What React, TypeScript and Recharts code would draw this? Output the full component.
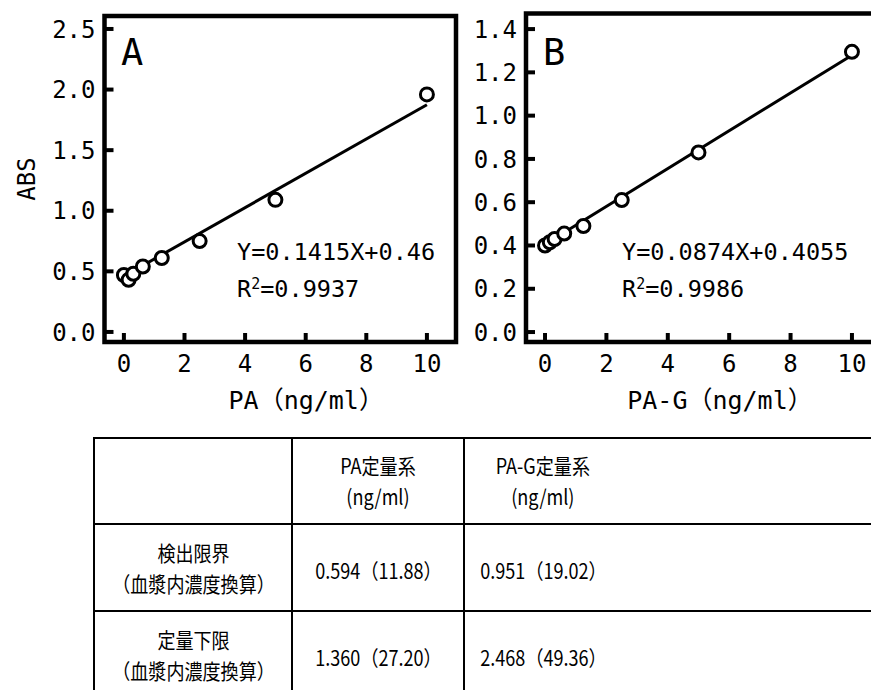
import React from 'react';
import { ComposedChart, Line, Scatter, XAxis, YAxis, ReferenceArea } from 'recharts';

// standard concentrations (ng/ml), 2-fold dilution series
const conc = [0, 0.156, 0.3125, 0.625, 1.25, 2.5, 5, 10];
const absPA = [0.47, 0.43, 0.48, 0.54, 0.61, 0.75, 1.09, 1.96];
const absPAG = [0.4, 0.415, 0.43, 0.455, 0.49, 0.61, 0.83, 1.295];

// regression line end points
const fitX = [0, 10];
const fitPA = [0.46, 1.875];
const fitPAG = [0.4055, 1.2795];

const xTicks = [0, 2, 4, 6, 8, 10];
const yTicksPA = [0, 0.5, 1, 1.5, 2, 2.5];
const yTicksPAG = [0, 0.2, 0.4, 0.6, 0.8, 1, 1.2, 1.4];

// table
const colHeads = ['PA定量系', 'PA-G定量系'];
const colUnit = '(ng/ml)';
const rowNames = ['検出限界', '定量下限'];
const rowNote = '（血漿内濃度換算）';
const valPA = ['0.594（11.88）', '1.360（27.20）'];
const valPAG = ['0.951（19.02）', '2.468（49.36）'];

const mono = '"DejaVu Sans Mono", "Noto Sans CJK JP", monospace';
const cjk = '"Noto Sans CJK JP", sans-serif';

const toPoints = (xs: number[], ys: number[]) => xs.map((x, i) => ({ x, y: ys[i] }));

const XTick = (p: any) => (
  <g>
    <line x1={p.x} x2={p.x} y1={p.y} y2={p.y - 9} stroke="#000" strokeWidth={4} />
    <text x={p.x} y={p.y + 21} dy="0.36em" textAnchor="middle" fontFamily={mono} fontSize={24} fill="#000">
      {p.payload.value}
    </text>
  </g>
);

const YTick = (p: any) => (
  <g>
    <line x1={p.x} x2={p.x + 9} y1={p.y} y2={p.y} stroke="#000" strokeWidth={4} />
    <text x={p.x - 9} y={p.y} dy="0.36em" textAnchor="end" fontFamily={mono} fontSize={24} fill="#000">
      {Number(p.payload.value).toFixed(1)}
    </text>
  </g>
);

const Dot = (p: any) => <circle cx={p.cx} cy={p.cy} r={6.5} fill="#fff" stroke="#000" strokeWidth={3} />;

interface PanelProps {
  width: number;
  top: number;
  yAxisWidth: number;
  xDomain: [number, number];
  yDomain: [number, number];
  yTicks: number[];
  points: { x: number; y: number }[];
  fit: { x: number; y: number }[];
  xTitle: string;
  titleDx: number;
  yTitle?: string;
}

function Panel({ width, top, yAxisWidth, xDomain, yDomain, yTicks, points, fit, xTitle, titleDx, yTitle }: PanelProps) {
  return (
    <ComposedChart width={width} height={420} margin={{ top, right: 14, bottom: 0, left: 0 }}>
      <ReferenceArea
        x1={xDomain[0]}
        x2={xDomain[1]}
        y1={yDomain[0]}
        y2={yDomain[1]}
        ifOverflow="visible"
        fill="none"
        fillOpacity={0}
        stroke="#000"
        strokeWidth={4.5}
      />
      <XAxis
        type="number"
        dataKey="x"
        domain={xDomain}
        ticks={xTicks}
        interval={0}
        allowDataOverflow
        axisLine={false}
        tickLine={false}
        tickSize={0}
        tickMargin={0}
        height={78}
        tick={(p: any) => <XTick {...p} />}
        label={{ value: xTitle, position: 'insideBottom', offset: 11, dx: titleDx, fontFamily: mono, fontSize: 25, fill: '#000' }}
      />
      <YAxis
        type="number"
        dataKey="y"
        domain={yDomain}
        ticks={yTicks}
        interval={0}
        allowDataOverflow
        axisLine={false}
        tickLine={false}
        tickSize={0}
        tickMargin={0}
        width={yAxisWidth}
        tick={(p: any) => <YTick {...p} />}
        label={
          yTitle
            ? { value: yTitle, angle: -90, position: 'insideLeft', offset: 26, style: { textAnchor: 'middle' }, fontFamily: mono, fontSize: 24, fill: '#000' }
            : undefined
        }
      />
      <Line data={fit} dataKey="y" stroke="#000" strokeWidth={3} dot={false} activeDot={false} isAnimationActive={false} />
      <Scatter data={points} dataKey="y" shape={Dot} isAnimationActive={false} />
    </ComposedChart>
  );
}

const cell: React.CSSProperties = {
  border: '2px solid #000',
  padding: 0,
  verticalAlign: 'middle',
  fontFamily: cjk,
  fontSize: 21,
  color: '#000',
  overflow: 'visible',
};

// one text block per cell, narrowed like the condensed gothic of the original
const CellText = ({ lines, width, shift = 0 }: { lines: string[]; width?: number; shift?: number }) => (
  <div style={{ display: 'flex', justifyContent: 'center', width: width ?? '100%', paddingTop: shift }}>
    <span
      style={{
        display: 'inline-block',
        transform: 'scaleX(0.86)',
        whiteSpace: 'nowrap',
        lineHeight: '31px',
        textAlign: 'center',
        flexShrink: 0,
      }}
    >
      {lines.map((l, i) => (
        <React.Fragment key={i}>
          {i > 0 && <br />}
          {l}
        </React.Fragment>
      ))}
    </span>
  </div>
);

export default function App() {
  const ptsPA = toPoints(conc, absPA);
  const ptsPAG = toPoints(conc, absPAG);
  return (
    <div style={{ position: 'absolute', left: 0, top: 0, width: 871, height: 690, overflow: 'hidden', background: '#fff' }}>
      <div style={{ position: 'absolute', left: 0, top: 0 }}>
        <Panel
          width={470}
          top={16}
          yAxisWidth={104.5}
          xDomain={[-0.64, 10.96]}
          yDomain={[-0.083, 2.607]}
          yTicks={yTicksPA}
          points={ptsPA}
          fit={toPoints(fitX, fitPA)}
          xTitle="PA（ng/ml）"
          titleDx={26}
          yTitle="ABS"
        />
      </div>
      <div style={{ position: 'absolute', left: 470, top: 0 }}>
        <Panel
          width={434}
          top={13.5}
          yAxisWidth={56}
          xDomain={[-0.62, 11.24]}
          yDomain={[-0.046, 1.472]}
          yTicks={yTicksPAG}
          points={ptsPAG}
          fit={toPoints(fitX, fitPAG)}
          xTitle="PA-G（ng/ml）"
          titleDx={12}
        />
      </div>
      <svg width={871} height={420} style={{ position: 'absolute', left: 0, top: 0, pointerEvents: 'none' }}>
        <g fontFamily={mono} fill="#000">
          <text x={121} y={65} fontSize={37}>A</text>
          <text x={543} y={65} fontSize={37}>B</text>
          <text x={237} y={260} fontSize={23.5}>Y=0.1415X+0.46</text>
          <text x={237} y={297} fontSize={23.5}>
            R<tspan fontSize={15} dy={-8}>2</tspan><tspan dy={8}>=0.9937</tspan>
          </text>
          <text x={622} y={260} fontSize={23.5}>Y=0.0874X+0.4055</text>
          <text x={622} y={297} fontSize={23.5}>
            R<tspan fontSize={15} dy={-8}>2</tspan><tspan dy={8}>=0.9986</tspan>
          </text>
        </g>
      </svg>
      <table
        style={{
          position: 'absolute',
          left: 93,
          top: 437,
          width: 790,
          borderCollapse: 'collapse',
          tableLayout: 'fixed',
        }}
      >
        <colgroup>
          <col style={{ width: 198 }} />
          <col style={{ width: 172 }} />
          <col style={{ width: 420 }} />
        </colgroup>
        <tbody>
          <tr style={{ height: 86 }}>
            <td style={cell}></td>
            <td style={cell}>
              <CellText lines={[colHeads[0], colUnit]} />
            </td>
            <td style={cell}>
              <CellText lines={[colHeads[1], colUnit]} width={156} />
            </td>
          </tr>
          {rowNames.map((name, i) => (
            <tr key={name} style={{ height: 87 }}>
              <td style={cell}>
                <CellText lines={[name, rowNote]} />
              </td>
              <td style={cell}>
                <CellText lines={[valPA[i]]} shift={6} />
              </td>
              <td style={cell}>
                <CellText lines={[valPAG[i]]} width={156} shift={6} />
              </td>
            </tr>
          ))}
        </tbody>
      </table>
    </div>
  );
}
